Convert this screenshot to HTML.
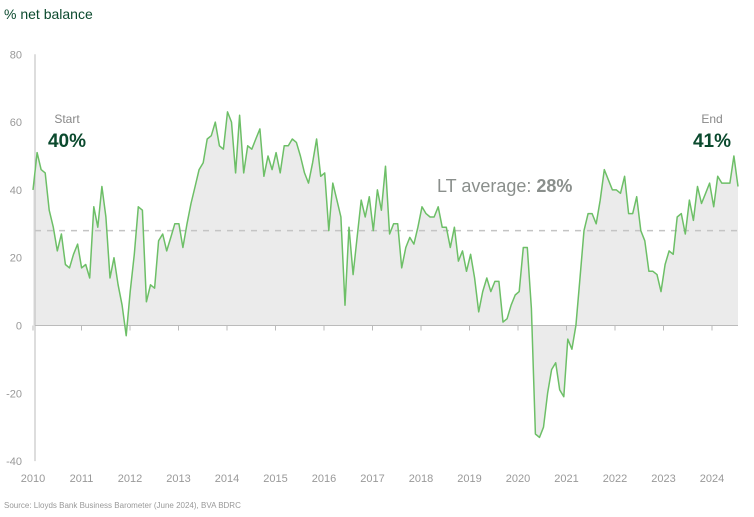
<!DOCTYPE html>
<html><head><meta charset="utf-8"><style>
body{margin:0;background:#fff;font-family:"Liberation Sans",sans-serif}
svg{display:block}
</style></head><body>
<svg width="754" height="517" id="c">
<text x="4" y="19" font-size="14" fill="#0b4a2e">% net balance</text>
<text x="4" y="508" font-size="8" fill="#999">Source: Lloyds Bank Business Barometer (June 2024), BVA BDRC</text>
</svg>
<script>
const years=[2010,2011,2012,2013,2014,2015,2016,2017,2018,2019,2020,2021,2022,2023,2024];
const yTicks=[80,60,40,20,0,-20,-40];
const values=[40,51,46,45,34,29,22,27,18,17,21,24,
17,18,14,35,29,41,32,14,20,12,6,-3,
10,21,35,34,7,12,11,25,27,22,26,30,
30,23,30,36,41,46,48,55,56,60,53,52,
63,60,45,62,45,53,52,55,58,44,50,46,
51,45,53,53,55,54,50,45,42,48,55,44,
45,28,42,37,32,6,29,15,26,37,32,38,
28,40,34,47,27,30,30,17,23,26,24,29,
35,33,32,32,35,29,29,23,29,19,22,16,
21,14,4,10,14,10,13,13,1,2,6,9,
10,23,23,5,-32,-33,-30,-20,-13,-11,-19,-21,
-4,-7,0,14,28,33,33,30,37,46,43,40,
40,39,44,33,33,38,28,25,16,16,15,10,
18,22,21,32,33,27,37,31,41,36,39,42,
35,44,42,42,42,50,41];
const ltAvg=28;
const svg=document.getElementById('c');
const NS='http://www.w3.org/2000/svg';
const yS=v=>325.5-v*3.39;
const xS=t=>33+(t-2010)*48.5;
const xI=i=>33+(values.length>1?i*(738-33)/(values.length-1):0);
function mk(tag,attrs){const e=document.createElementNS(NS,tag);for(const k in attrs)e.setAttribute(k,attrs[k]);svg.appendChild(e);return e;}
// area
let d='M'+xI(0)+','+yS(0);
values.forEach((v,i)=>{d+='L'+xI(i).toFixed(1)+','+yS(v).toFixed(1);});
d+='L'+xI(values.length-1)+','+yS(0)+'Z';
const area=mk('path',{d:d,fill:'#ebebeb'});


// y axis line
const ya=mk('line',{x1:35,y1:yS(80),x2:35,y2:yS(-40),stroke:'#bbb','stroke-width':1});


yTicks.forEach(v=>{
 const t=mk('text',{x:22,y:yS(v)+4,'font-size':11,fill:'#999','text-anchor':'end'});
 t.textContent=v;
 
 
});
// zero line
const z=mk('line',{x1:35,y1:yS(0),x2:738,y2:yS(0),stroke:'#bbb','stroke-width':1});


years.forEach(y=>{
 const tk=mk('line',{x1:xS(y),y1:yS(0),x2:xS(y),y2:yS(0)+5,stroke:'#bbb'});
 
 
 const t=mk('text',{x:xS(y),y:482,'font-size':11,fill:'#999','text-anchor':'middle'});
 t.textContent=y;
 
 
});
// avg line
const av=mk('line',{x1:35,y1:yS(ltAvg),x2:738,y2:yS(ltAvg),stroke:'#c4c4c4','stroke-width':1.5,'stroke-dasharray':'6,6'});


// series line
let p='';
values.forEach((v,i)=>{p+=(i?'L':'M')+xI(i).toFixed(1)+','+yS(v).toFixed(1);});
const ln=mk('path',{d:p,fill:'none',stroke:'#6dbf67','stroke-width':1.5,'stroke-linejoin':'round'});


// labels
function txt(x,y,s,fs,fill,anchor,w,name){const t=mk('text',{x:x,y:y,'font-size':fs,fill:fill,'text-anchor':anchor,'font-weight':w});t.textContent=s;return t;}
txt(67,123,'Start',12,'#888','middle','normal','start-label');
txt(67,147,values[0]+'%',19,'#0b4a2e','middle','bold','start-value');
txt(712,123,'End',12,'#888','middle','normal','end-label');
txt(712,147,values[values.length-1]+'%',19,'#0b4a2e','middle','bold','end-value');
const la=mk('text',{x:437,y:192,'font-size':18,fill:'#8a8f8c'});


la.innerHTML='LT average: <tspan font-weight="bold">'+ltAvg+'%</tspan>';
</script>
</body></html>
